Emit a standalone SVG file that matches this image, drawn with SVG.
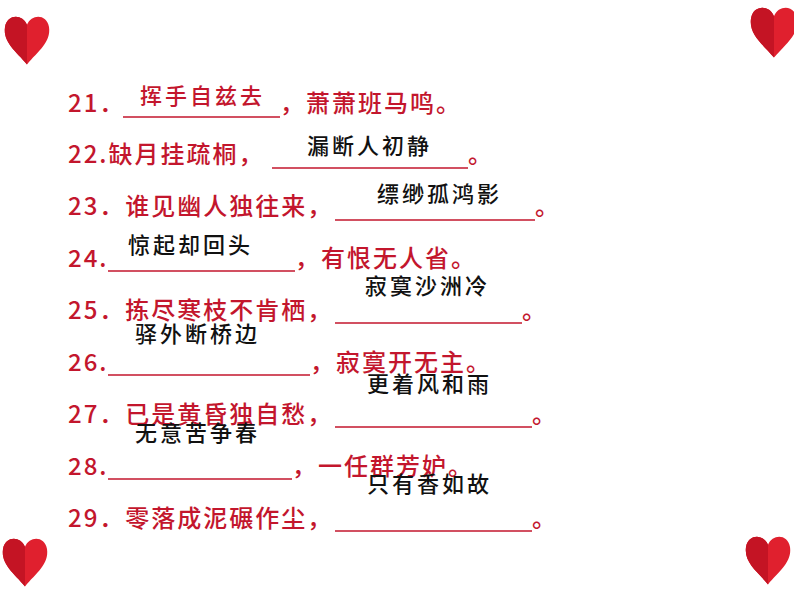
<svg xmlns="http://www.w3.org/2000/svg" width="794" height="596" viewBox="0 0 794 596">
<defs>
<style>
.q{font-family:"Noto Sans CJK SC","Liberation Sans",sans-serif;font-size:24px;fill:#c3162d;font-weight:500;letter-spacing:2px}
.a{font-family:"Noto Sans CJK SC","Liberation Sans",sans-serif;font-size:22px;fill:#111;font-weight:500;letter-spacing:3px}
.ar{fill:#c3162d}
.u{stroke:#c3162d;stroke-width:1.3}
</style>
<g id="heart"><path d="M0,24 C-10,12 -22,4 -20,-10 C-18,-22 -4,-22 0,-12 C4,-22 18,-22 20,-10 C22,4 10,12 0,24Z" fill="#e0202e"/><path d="M0,24 C-10,12 -22,4 -20,-10 C-18,-22 -4,-22 0,-12Z" fill="#c41424"/></g>
</defs>
<rect width="794" height="596" fill="#fff"/>
<use href="#heart" transform="translate(27,38) scale(1.1)"/>
<use href="#heart" transform="translate(774,30) scale(1.15)"/>
<use href="#heart" transform="translate(25,560) scale(1.1)"/>
<use href="#heart" transform="translate(768,558) scale(1.1)"/>
<g id="connectors">
<line class="u" x1="123" y1="117" x2="280" y2="117"/>
<line class="u" x1="272" y1="168" x2="468" y2="168"/>
<line class="u" x1="335" y1="220" x2="535" y2="220"/>
<line class="u" x1="108" y1="271" x2="295" y2="271"/>
<line class="u" x1="335" y1="323" x2="522" y2="323"/>
<line class="u" x1="108" y1="375" x2="310" y2="375"/>
<line class="u" x1="335" y1="427" x2="532" y2="427"/>
<line class="u" x1="108" y1="479" x2="292" y2="479"/>
<line class="u" x1="335" y1="531" x2="532" y2="531"/>
</g>
<g id="l21"><text class="q" x="68" y="112">21．</text><text class="q" x="280" y="112">，萧萧班马鸣。</text><text class="a ar" x="140" y="104">挥手自兹去</text></g>
<g id="l22"><text class="q" x="68" y="163">22.缺月挂疏桐，</text><text class="q" x="468" y="163">。</text><text class="a" x="307" y="154">漏断人初静</text></g>
<g id="l23"><text class="q" x="68" y="215">23．谁见幽人独往来，</text><text class="q" x="535" y="215">。</text><text class="a" x="377" y="202">缥缈孤鸿影</text></g>
<g id="l24"><text class="q" x="68" y="267">24.</text><text class="q" x="295" y="267">，有恨无人省。</text><text class="a" x="128" y="253">惊起却回头</text></g>
<g id="l25"><text class="q" x="68" y="319">25．拣尽寒枝不肯栖，</text><text class="q" x="522" y="319">。</text><text class="a" x="365" y="294">寂寞沙洲冷</text></g>
<g id="l26"><text class="q" x="68" y="371">26.</text><text class="q" x="310" y="371">，寂寞开无主。</text><text class="a" x="135" y="342">驿外断桥边</text></g>
<g id="l27"><text class="q" x="68" y="423">27．已是黄昏独自愁，</text><text class="q" x="532" y="423">。</text><text class="a" x="367" y="392">更着风和雨</text></g>
<g id="l28"><text class="q" x="68" y="475">28.</text><text class="q" x="292" y="475">，一任群芳妒。</text><text class="a" x="135" y="441">无意苦争春</text></g>
<g id="l29"><text class="q" x="68" y="527">29．零落成泥碾作尘，</text><text class="q" x="532" y="527">。</text><text class="a" x="367" y="492">只有香如故</text></g>
</svg>
